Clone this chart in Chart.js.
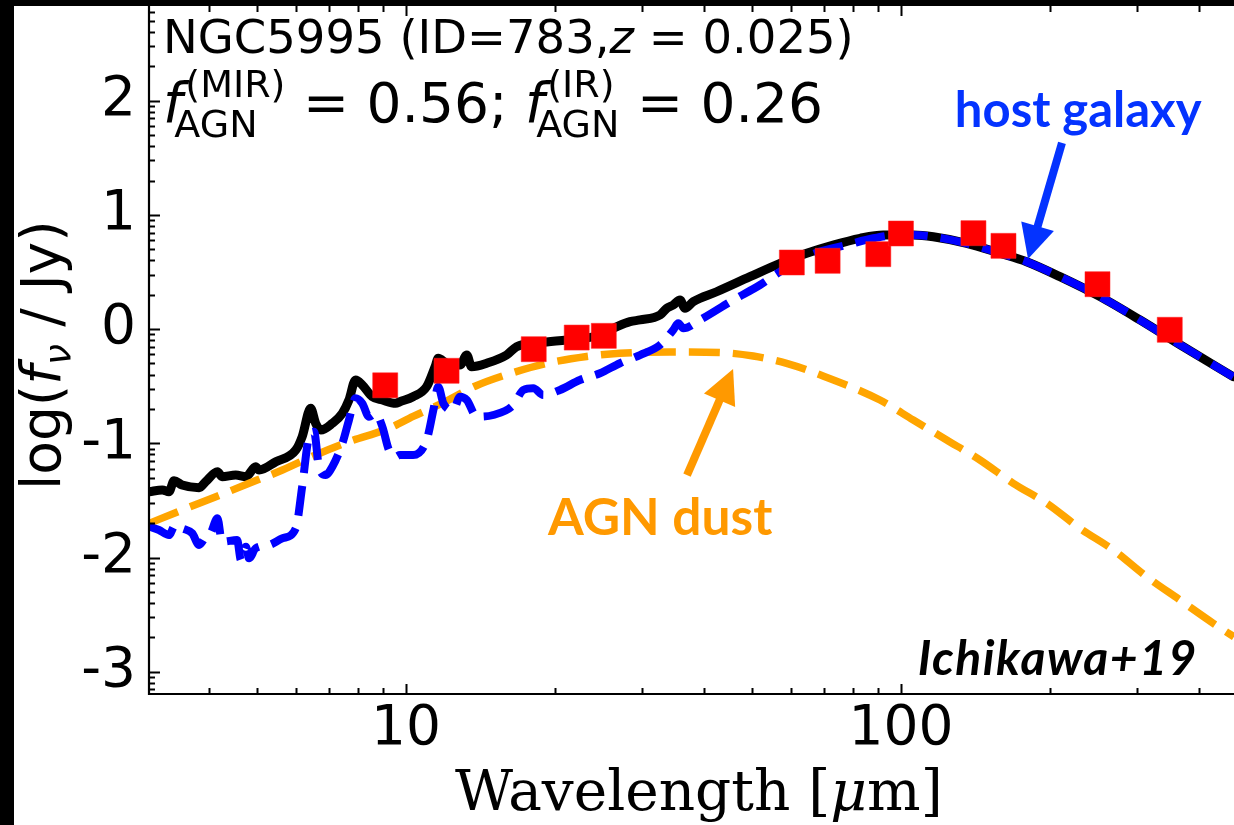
<!DOCTYPE html>
<html><head><meta charset="utf-8">
<script src="https://cdn.jsdelivr.net/npm/chart.js@4/dist/chart.umd.min.js"></script>
<style>html,body{margin:0;padding:0;background:#fff;overflow:hidden}#wrap{width:1234px;height:825px;position:relative}canvas{display:block}</style>
</head><body><div id="wrap"><canvas id="c" width="1234" height="825"></canvas></div>
<script>
// ---------- data (wavelength in micron, log10 flux density in Jy) ----------
const totalWave = [3.03,3.22,3.32,3.40,3.53,3.82,3.94,4.16,4.25,4.53,4.75,4.97,5.05,5.46,5.99,6.17,6.42,6.57,6.73,7.10,7.44,7.67,7.91,8.16,8.55,8.96,9.53,9.72,10.33,11.01,11.45,11.62,12.08,12.86,13.27,13.57,14.56,15.97,16.73,18.65,21.12,23.89,26.23,28.35,29.70,32.60,33.63,34.67,35.78,36.61,38.06,42.43,49.54,56.98,64.50,72.98,82.64,92.09,105.9,116.2,135.8,158.5,179.4,209.5,252.5,304.0,371.7,469.2];
const totalLogF = [-1.424,-1.409,-1.424,-1.328,-1.365,-1.389,-1.336,-1.249,-1.292,-1.278,-1.292,-1.205,-1.234,-1.161,-1.059,-0.942,-0.694,-0.825,-0.884,-0.825,-0.737,-0.621,-0.446,-0.489,-0.592,-0.621,-0.650,-0.636,-0.592,-0.504,-0.329,-0.256,-0.299,-0.314,-0.227,-0.329,-0.299,-0.227,-0.154,-0.119,-0.095,-0.067,0.007,0.065,0.080,0.123,0.182,0.211,0.255,0.182,0.240,0.327,0.459,0.576,0.664,0.736,0.795,0.824,0.824,0.809,0.751,0.664,0.590,0.459,0.284,0.080,-0.154,-0.417];

const hostWave = [3.03,3.17,3.32,3.42,3.53,3.70,3.82,3.94,4.03,4.16,4.25,4.56,4.64,4.75,4.82,4.97,5.29,5.63,5.99,6.17,6.37,6.52,6.67,6.88,7.10,7.44,7.67,7.91,8.16,8.42,8.69,8.96,9.24,9.53,9.72,10.34,11.01,11.36,11.62,11.90,12.46,12.86,13.27,13.90,15.01,16.48,17.26,18.08,18.95,20.47,22.46,24.66,27.06,29.70,32.60,34.67,35.49,36.34,39.26,45.84,51.90,56.98,62.52,68.62,77.68,87.90,99.5,105.9,116.2,135.8,158.5,179.4,209.5,252.5,304.0,371.7,469.2];
const hostLogF = [-1.730,-1.759,-1.803,-1.715,-1.744,-1.788,-1.891,-1.818,-1.788,-1.657,-1.862,-1.847,-2.022,-1.905,-2.007,-1.919,-1.891,-1.832,-1.744,-1.380,-0.942,-0.898,-1.205,-1.278,-1.205,-1.000,-0.796,-0.606,-0.650,-0.767,-0.737,-0.855,-1.059,-1.117,-1.102,-1.102,-0.971,-0.708,-0.504,-0.650,-0.708,-0.592,-0.621,-0.767,-0.752,-0.665,-0.533,-0.518,-0.577,-0.533,-0.446,-0.387,-0.299,-0.227,-0.139,-0.008,0.051,0.007,0.080,0.255,0.386,0.503,0.605,0.678,0.736,0.795,0.824,0.824,0.809,0.751,0.664,0.590,0.459,0.284,0.080,-0.154,-0.417];

const agnWave = [3.03,3.53,4.13,4.82,5.63,6.57,7.67,9.24,10.34,12.08,13.79,16.48,19.24,23.18,27.06,34.15,43.08,50.30,58.75,68.62,90.7,105.9,123.7,144.4,168.6,197.0,229.9,268.5,313.6,366.1,427.5,470.7];
const agnLogF = [-1.701,-1.584,-1.468,-1.350,-1.234,-1.102,-0.986,-0.869,-0.765,-0.630,-0.500,-0.380,-0.300,-0.240,-0.212,-0.200,-0.205,-0.236,-0.300,-0.400,-0.621,-0.796,-0.971,-1.146,-1.350,-1.525,-1.744,-1.934,-2.168,-2.372,-2.576,-2.694];

const photWave = [9.08,12.08,18.12,22.13,25.1,60.2,71.1,90.0,100,140.1,161.1,249.5,349.2];
const photLogF = [-0.492,-0.365,-0.176,-0.074,-0.059,0.583,0.598,0.656,0.837,0.840,0.729,0.393,-0.006];

const xTickValues = [10, 100];
const xTickLabels = ['10', '100'];
const yTickValues = [-3, -2, -1, 0, 1, 2];
const yTickLabels = ['-3', '-2', '-1', '0', '1', '2'];
const xRange = [3.026, 470.8];
const yRange = [-3.195, 2.829];

// annotation anchors (data coordinates)
const hostArrow = {from: [211.5, 1.63], to: [180.6, 0.614]};
const agnArrow = {from: [36.97, -1.278], to: [45.8, -0.349]};
const hostLabel = {text: 'host galaxy', at: [128.5, 1.77]};
const agnLabel = {text: 'AGN dust', at: [19.36, -1.803]};
const refLabel = {text: 'Ichikawa+19', at: [398, -3.03]};

// ---------- build ----------
const pts = (xs, ys) => xs.map((x, i) => ({x: x, y: ys[i]}));

const SANS = "'DejaVu Sans'";
function rich(ctx, x, y, segs) {
  let cx = x;
  for (const s of segs) {
    ctx.font = s.font;
    if (s.stack) {
      const w1 = ctx.measureText(s.sup).width;
      const w2 = ctx.measureText(s.sub).width;
      ctx.fillText(s.sup, cx + (s.supDx || 0), y + s.supDy);
      ctx.fillText(s.sub, cx + (s.subDx || 0), y + s.subDy);
      cx += Math.max(w1 + (s.supDx || 0), w2 + (s.subDx || 0));
    } else {
      ctx.fillText(s.t, cx, y + (s.dy || 0));
      cx += ctx.measureText(s.t).width;
    }
  }
  return cx;
}

function arrow(ctx, x0, y0, x1, y1, color, lw, headLen, headW) {
  const dx = x1 - x0, dy = y1 - y0, L = Math.hypot(dx, dy);
  const ux = dx / L, uy = dy / L;
  const bx = x1 - ux * headLen, by = y1 - uy * headLen;
  ctx.strokeStyle = color; ctx.fillStyle = color; ctx.lineWidth = lw; ctx.lineCap = 'butt';
  ctx.beginPath(); ctx.moveTo(x0, y0); ctx.lineTo(bx + ux * 2, by + uy * 2); ctx.stroke();
  ctx.beginPath();
  ctx.moveTo(x1, y1);
  ctx.lineTo(bx - uy * headW / 2, by + ux * headW / 2);
  ctx.lineTo(bx + uy * headW / 2, by - ux * headW / 2);
  ctx.closePath(); ctx.fill();
}

const noPad = s => { s.paddingTop = 0; s.paddingBottom = 0; s.paddingLeft = 0; s.paddingRight = 0; };

const decor = {
  id: 'decor',
  beforeDraw(chart) {
    const ctx = chart.ctx;
    ctx.save();
    ctx.fillStyle = '#fff';
    ctx.fillRect(0, 0, chart.width, chart.height);
    ctx.restore();
  },
  afterDraw(chart) {
    const ctx = chart.ctx, xs = chart.scales.x, ys = chart.scales.y, a = chart.chartArea;
    ctx.save();
    // spines
    ctx.strokeStyle = '#000'; ctx.lineWidth = 2.2;
    ctx.beginPath();
    ctx.moveTo(a.left, a.top); ctx.lineTo(a.left, a.bottom); ctx.lineTo(a.right, a.bottom);
    ctx.stroke();
    // ticks (inward), top and bottom for x; left for y
    ctx.lineWidth = 2;
    const xTicks = [];
    for (let e = 0; e <= 3; e++) for (let k = 1; k <= 9; k++) {
      const v = k * Math.pow(10, e);
      if (v >= xRange[0] && v <= xRange[1]) xTicks.push([v, k === 1]);
    }
    for (const [v, major] of xTicks) {
      const px = Math.round(xs.getPixelForValue(v)) + 0.5;
      const len = major ? 10 : 6;
      ctx.beginPath();
      ctx.moveTo(px, a.bottom); ctx.lineTo(px, a.bottom - len);
      ctx.moveTo(px, a.top); ctx.lineTo(px, a.top + len);
      ctx.stroke();
    }
    for (let n = -4; n <= 3; n++) for (let k = 1; k <= 9; k++) {
      const v = n + Math.log10(k);
      if (v < yRange[0] || v > yRange[1]) continue;
      const py = Math.round(ys.getPixelForValue(v)) + 0.5;
      const len = k === 1 ? 11 : 6;
      ctx.beginPath(); ctx.moveTo(a.left, py); ctx.lineTo(a.left + len, py); ctx.stroke();
    }
    // black frame bands of the original image
    ctx.fillStyle = '#000';
    ctx.fillRect(0, 0, 14, chart.height);
    ctx.fillRect(0, 0, chart.width, a.top);

    // header texts
    ctx.fillStyle = '#000';
    ctx.textBaseline = 'alphabetic'; ctx.textAlign = 'left';
    const tx = a.left + 14;
    rich(ctx, tx, a.top + 47, [
      {t: 'NGC5995 (ID=783,', font: '46.5px ' + SANS},
      {t: 'z', font: 'italic 46.5px ' + SANS},
      {t: ' = 0.025)', font: '46.5px ' + SANS}
    ]);
    rich(ctx, tx, a.top + 116, [
      {t: 'f', font: 'italic 55px ' + SANS},
      {stack: true, sup: '(MIR)', sub: 'AGN', font: '38px ' + SANS, supDx: 3, supDy: -25, subDx: -8, subDy: 15},
      {t: ' = 0.56; ', font: '55px ' + SANS},
      {t: 'f', font: 'italic 55px ' + SANS},
      {stack: true, sup: '(IR)', sub: 'AGN', font: '38px ' + SANS, supDx: 3, supDy: -25, subDx: -8, subDy: 15},
      {t: ' = 0.26', font: '55px ' + SANS}
    ]);

    // annotations
    const P = (d) => [xs.getPixelForValue(d[0]), ys.getPixelForValue(d[1])];
    let p0 = P(hostArrow.from), p1 = P(hostArrow.to);
    arrow(ctx, p0[0], p0[1], p1[0], p1[1], '#0433ff', 8, 34, 34);
    p0 = P(agnArrow.from); p1 = P(agnArrow.to);
    arrow(ctx, p0[0], p0[1], p1[0], p1[1], '#ff9900', 8, 34, 34);

    let q = P(hostLabel.at);
    ctx.fillStyle = '#0433ff'; ctx.font = "bold 49px Lato";
    ctx.fillText(hostLabel.text, q[0], q[1]);
    q = P(agnLabel.at);
    ctx.fillStyle = '#ff9900'; ctx.font = "bold 51.5px Lato";
    ctx.fillText(agnLabel.text, q[0], q[1]);
    q = P(refLabel.at);
    ctx.fillStyle = '#000'; ctx.font = "italic bold 48px Lato"; ctx.textAlign = 'right';
    try { ctx.letterSpacing = '1.5px'; } catch (e) {}
    ctx.fillText(refLabel.text, q[0], q[1]);
    try { ctx.letterSpacing = '0px'; } catch (e) {}

    // axis titles
    ctx.textAlign = 'left';
    ctx.fillStyle = '#000';
    const xt1 = 'Wavelength [', xt2 = 'μ', xt3 = 'm]';
    const xf = "56.5px 'DejaVu Serif'", xfi = "italic 56.5px 'DejaVu Serif'";
    ctx.font = xf; const w1 = ctx.measureText(xt1).width;
    ctx.font = xfi; const w2 = ctx.measureText(xt2).width;
    const sx = 455, by = 810;
    ctx.font = xf; ctx.fillText(xt1, sx, by);
    ctx.font = xfi; ctx.fillText(xt2, sx + w1, by);
    ctx.font = xf; ctx.fillText(xt3, sx + w1 + w2, by);

    ctx.translate(60, 490);
    ctx.rotate(-Math.PI / 2);
    rich(ctx, 0, 0, [
      {t: 'log(', font: '55px ' + SANS},
      {t: 'f', font: 'italic 55px ' + SANS},
      {t: 'ν', font: 'italic 38px ' + SANS, dy: 10},
      {t: ' / Jy)', font: '55px ' + SANS}
    ]);
    ctx.restore();
  }
};

const common = {fill: false, pointRadius: 0, cubicInterpolationMode: 'monotone', borderJoinStyle: 'round', clip: 0};

new Chart(document.getElementById('c'), {
  type: 'line',
  data: {
    datasets: [
      {label: 'photometry', data: pts(photWave, photLogF), showLine: false,
        pointStyle: 'rect', pointRadius: 17.7, pointHoverRadius: 17.7, pointBackgroundColor: '#ff0000',
        pointBorderColor: '#ff2020', pointBorderWidth: 0.5, order: 0},
      Object.assign({}, common, {label: 'host galaxy', data: pts(hostWave, hostLogF), borderColor: '#0000ff',
        borderWidth: 8, borderDash: [30, 13], borderCapStyle: 'butt', order: 1}),
      Object.assign({}, common, {label: 'AGN dust', data: pts(agnWave, agnLogF), borderColor: '#ffa500',
        borderWidth: 7.5, borderDash: [31, 13], borderCapStyle: 'butt', order: 2}),
      Object.assign({}, common, {label: 'total', data: pts(totalWave, totalLogF), borderColor: '#000000',
        borderWidth: 9, borderCapStyle: 'round', order: 3})
    ]
  },
  options: {
    responsive: false, animation: false, devicePixelRatio: 1,
    layout: {autoPadding: false, padding: {top: 6, left: 0, right: 0, bottom: 0}},
    plugins: {legend: {display: false}, tooltip: {enabled: false}, title: {display: false}},
    events: [],
    scales: {
      x: {
        type: 'logarithmic', min: xRange[0], max: xRange[1],
        afterBuildTicks: s => { s.ticks = xTickValues.map(v => ({value: v})); },
        afterFit: s => { s.height = 131; noPad(s); },
        ticks: {callback: (v, i) => xTickLabels[i], font: {family: 'DejaVu Sans', size: 55}, color: '#000',
          padding: 3, maxRotation: 0, autoSkip: false},
        grid: {display: false, drawTicks: false}, border: {display: false}
      },
      y: {
        type: 'linear', min: yRange[0], max: yRange[1],
        afterBuildTicks: s => { s.ticks = yTickValues.map(v => ({value: v})); },
        afterFit: s => { s.width = 149; noPad(s); },
        ticks: {callback: (v, i) => yTickLabels[i], font: {family: 'DejaVu Sans', size: 55}, color: '#000',
          padding: 13, autoSkip: false},
        grid: {display: false, drawTicks: false}, border: {display: false}
      }
    }
  },
  plugins: [decor]
});
</script></body></html>
